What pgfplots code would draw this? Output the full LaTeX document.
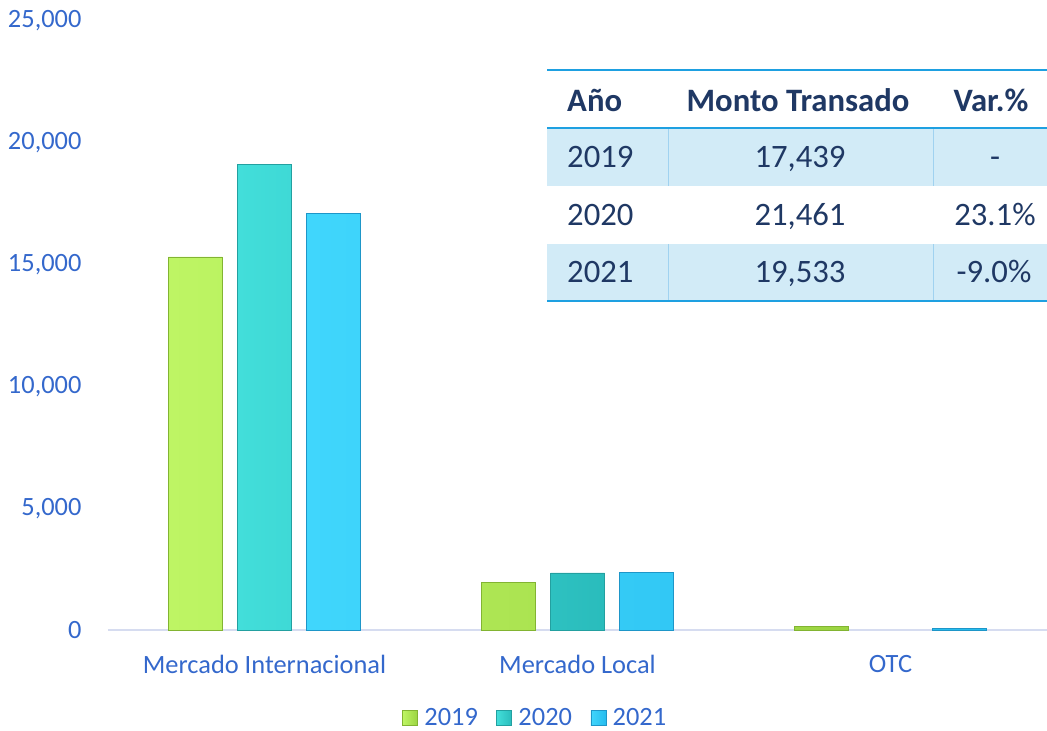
\documentclass[border=0pt]{standalone}
\usepackage{fontspec}
\setmainfont{Carlito}
\usepackage{pgfplots}
\pgfplotsset{compat=1.18}
\definecolor{ticktext}{RGB}{52,104,204}
\definecolor{axline}{RGB}{214,220,240}
\definecolor{navy}{RGB}{31,56,100}
\definecolor{tblblue}{RGB}{30,160,225}
\definecolor{rowfill}{RGB}{210,235,247}
\definecolor{rowsep}{RGB}{160,210,240}
\definecolor{gL}{RGB}{190,245,100}
\definecolor{gR}{RGB}{155,212,65}
\definecolor{gD}{RGB}{130,180,50}
\definecolor{tL}{RGB}{66,222,218}
\definecolor{tR}{RGB}{42,188,188}
\definecolor{tD}{RGB}{35,160,160}
\definecolor{bL}{RGB}{64,214,252}
\definecolor{bR}{RGB}{38,188,238}
\definecolor{bD}{RGB}{30,150,200}
\newcommand\axfont{\fontsize{26.5}{31}\selectfont}
\newcommand\tfont{\fontsize{32.8}{39}\selectfont}
\begin{document}
\begin{tikzpicture}
\begin{axis}[
  scale only axis, width=939bp, height=609bp,
  xmin=-0.5, xmax=2.5, ymin=0, ymax=25000,
  ybar,
  axis lines=left,
  axis line style={-},
  x axis line style={draw=axline, line width=1.2bp},
  y axis line style={draw=none},
  major tick length=0pt,
  xtick={0,1,2},
  xticklabels={Mercado Internacional, Mercado Local, OTC},
  ytick={0,5000,10000,15000,20000,25000},
  scaled y ticks=false,
  /pgf/number format/.cd, fixed, 1000 sep={,}, assume math mode=true,
  /pgfplots/.cd,
  tick label style={font=\axfont, text=ticktext},
  yticklabel style={xshift=-23bp},
  xticklabel style={yshift=-22bp},
  legend style={at={(0.4547,-0.1445)}, anchor=center, draw=none, fill=none,
    font=\axfont, text=ticktext, legend columns=3,
    nodes={inner sep=1.5bp},
    /tikz/every odd column/.append style={column sep=5bp},
    /tikz/every even column/.append style={column sep=17bp}},
  legend image code/.code={\draw[#1] (0bp,-7bp) rectangle (15bp,8bp);},
  clip=false,
]
\addplot[bar width=54bp, bar shift=-69bp, left color=gL, right color=gR, draw=gD, line width=0.6bp]
  coordinates {(0,15320) (1,1970) (2,150)};
\addplot[bar width=54bp, bar shift=0bp, left color=tL, right color=tR, draw=tD, line width=0.6bp]
  coordinates {(0,19120) (1,2341)};
\addplot[bar width=54bp, bar shift=69bp, left color=bL, right color=bR, draw=bD, line width=0.6bp]
  coordinates {(0,17090) (1,2370) (2,73)};
\legend{2019,2020,2021}
\end{axis}
% table
\fill[rowfill] (439bp,444bp) rectangle (939bp,502bp);
\fill[rowfill] (439bp,329bp) rectangle (939bp,386bp);
\draw[rowsep, line width=0.8bp] (560bp,444bp)--(560bp,502bp) (825bp,444bp)--(825bp,502bp);
\draw[rowsep, line width=0.8bp] (560bp,329bp)--(560bp,386bp) (825bp,329bp)--(825bp,386bp);
\draw[tblblue, line width=2.5bp] (439bp,560bp)--(939bp,560bp);
\draw[tblblue, line width=2.5bp] (439bp,502bp)--(939bp,502bp);
\draw[tblblue, line width=2.5bp] (439bp,329bp)--(939bp,329bp);
\begin{scope}[every node/.style={text=navy, font=\tfont, inner sep=0pt}]
\node[anchor=base west, font=\tfont\bfseries] at (459bp,518bp) {Año};
\node[anchor=base, font=\tfont\bfseries] at (690bp,518bp) {Monto Transado};
\node[anchor=base, font=\tfont\bfseries] at (883bp,518bp) {Var.\%};
\node[anchor=base west] at (459bp,462bp) {2019};
\node[anchor=base] at (692bp,462bp) {17,439};
\node[anchor=base] at (887bp,462bp) {-};
\node[anchor=base] at (887bp,404bp) {23.1\%};
\node[anchor=base west] at (459bp,404bp) {2020};
\node[anchor=base] at (692bp,404bp) {21,461};
\node[anchor=base west] at (459bp,347bp) {2021};
\node[anchor=base] at (692bp,347bp) {19,533};
\node[anchor=base] at (886bp,347bp) {-9.0\%};
\end{scope}
\pgfresetboundingbox
\useasboundingbox (-108bp,-101bp) rectangle (939bp,630bp);
\end{tikzpicture}
\end{document}
